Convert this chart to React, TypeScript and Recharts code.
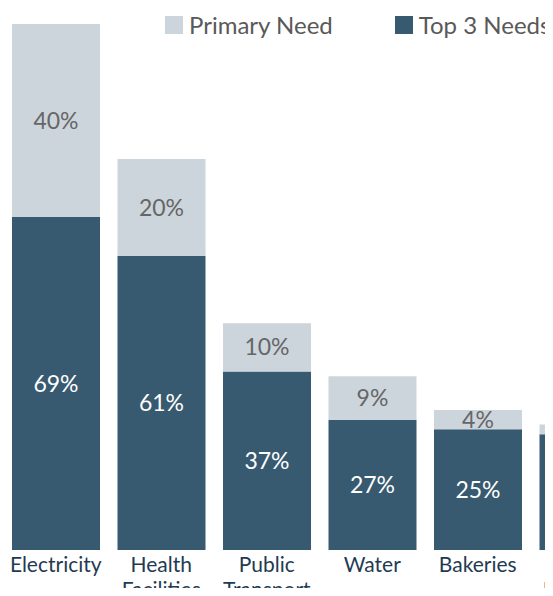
import { BarChart, Bar, XAxis, YAxis, LabelList } from "recharts";

const categories = ["Electricity", "Health\nFacilities", "Public\nTransport", "Water", "Bakeries", "Telecom\nNetwork"];
const top3Needs = [69, 61, 37, 27, 25, 24];
const primaryNeed = [40, 20, 10, 9, 4, 2];

const legendItems = [
  { label: "Primary Need", color: "#cdd5dc" },
  { label: "Top 3 Needs", color: "#375a70" },
];

const data = categories.map((c, i) => ({
  name: c,
  top3: top3Needs[i],
  primary: primaryNeed[i],
}));

const FONT = "Lato, 'Open Sans', sans-serif";

const CategoryTick = (props: any) => {
  const { x, y, payload } = props;
  const lines = String(payload.value).split("\n");
  return (
    <text x={x} y={y} textAnchor="middle" fill="#1f3b52" fontSize={21} fontFamily={FONT}>
      {lines.map((l, i) => (
        <tspan key={i} x={x} dy={i === 0 ? 14 : 25}>{l}</tspan>
      ))}
    </text>
  );
};

export default function App() {
  return (
    <div style={{ position: "relative", width: 553, height: 596, margin: -8, overflow: "hidden", background: "#fff" }}>
      <BarChart
        width={636}
        height={620}
        data={data}
        margin={{ top: 24, right: 0, left: 3, bottom: 0 }}
        barCategoryGap={9}
      >
        <XAxis dataKey="name" axisLine={false} tickLine={false} height={70} interval={0} tick={<CategoryTick />} />
        <YAxis hide domain={[0, 109]} />
        <Bar dataKey="top3" stackId="a" fill="#375a70" isAnimationActive={false} name="Top 3 Needs">
          <LabelList dataKey="top3" position="center" fill="#ffffff" fontSize={23} fontFamily={FONT} formatter={(v: any) => `${v}%`} />
        </Bar>
        <Bar dataKey="primary" stackId="a" fill="#cdd5dc" isAnimationActive={false} name="Primary Need">
          <LabelList dataKey="primary" position="center" fill="#666666" fontSize={23} fontFamily={FONT} formatter={(v: any) => `${v}%`} />
        </Bar>
      </BarChart>
      <div
        style={{
          position: "absolute", top: 10, left: 165, display: "flex", gap: 62,
          fontFamily: FONT, fontSize: 24, color: "#595959",
        }}
      >
        {legendItems.map((it) => (
          <div key={it.label} style={{ display: "flex", alignItems: "center", whiteSpace: "nowrap" }}>
            <span style={{ width: 18, height: 18, background: it.color, marginRight: 6, display: "inline-block" }} />
            {it.label}
          </div>
        ))}
      </div>
    </div>
  );
}
